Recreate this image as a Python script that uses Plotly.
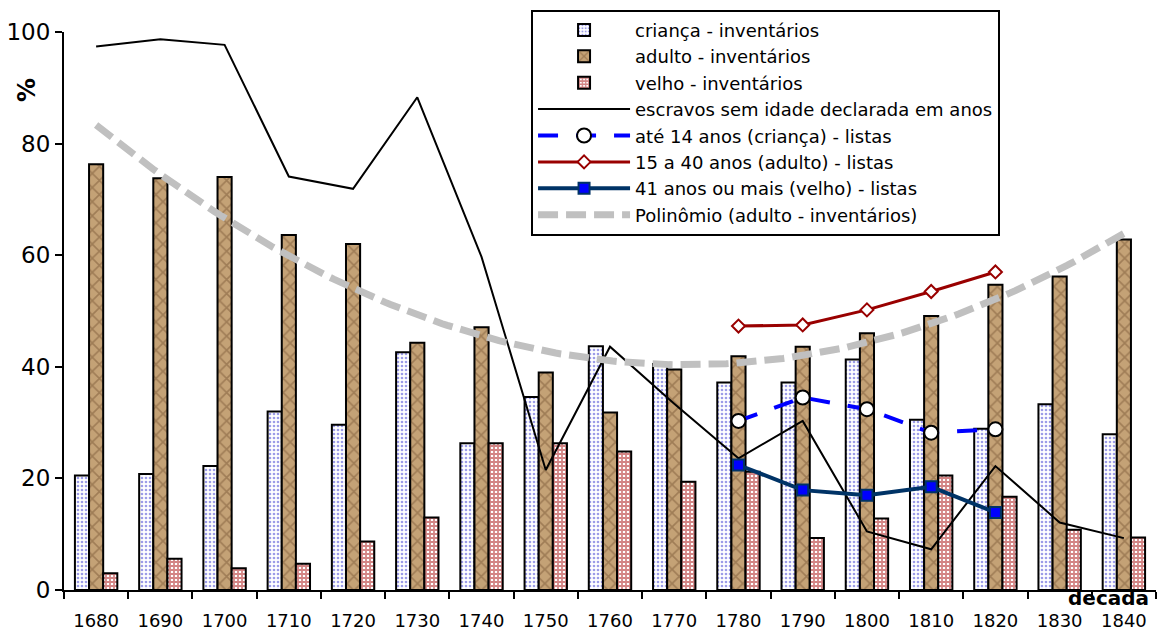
import numpy as np
import plotly.graph_objects as go

decades = [1680, 1690, 1700, 1710, 1720, 1730, 1740, 1750, 1760, 1770, 1780, 1790, 1800, 1810, 1820, 1830, 1840]
crianca_inv = [20.5, 20.8, 22.2, 32.0, 29.6, 42.6, 26.3, 34.6, 43.7, 40.5, 37.2, 37.2, 41.3, 30.5, 28.9, 33.3, 27.9]
adulto_inv = [76.3, 73.8, 74.0, 63.6, 62.0, 44.3, 47.1, 39.0, 31.8, 39.5, 41.9, 43.6, 46.0, 49.1, 54.7, 56.2, 62.8]
velho_inv = [3.0, 5.6, 3.9, 4.7, 8.7, 13.0, 26.3, 26.3, 24.8, 19.4, 21.2, 9.3, 12.8, 20.5, 16.7, 10.8, 9.4]
sem_idade = [97.4, 98.7, 97.7, 74.1, 71.9, 88.3, 59.7, 21.5, 43.6, 33.4, 23.6, 30.3, 10.5, 7.3, 22.2, 12.1, 9.3]

list_decades = [1780, 1790, 1800, 1810, 1820]
crianca_listas = [30.3, 34.5, 32.4, 28.2, 28.8]
adulto_listas = [47.3, 47.5, 50.2, 53.5, 57.0]
velho_listas = [22.4, 17.9, 17.0, 18.5, 13.9]

x_labels = [str(d) for d in decades]
y_ticks = [0, 20, 40, 60, 80, 100]

# polynomial (order 2) trendline of adult inventories, as Excel computes it on category index
idx = np.arange(1, len(decades) + 1)
coef = np.polyfit(idx, adulto_inv, 2)
fine_idx = np.linspace(1, len(decades), 200)
fine_years = decades[0] + (fine_idx - 1) * 10
poly_vals = np.polyval(coef, fine_idx)

FONT = "DejaVu Sans, Liberation Sans, Arial, sans-serif"

fig = go.Figure()
bar_line = dict(color="black", width=2)
fig.add_trace(go.Bar(
    x=decades, y=crianca_inv, name="criança - inventários",
    marker=dict(color="white", line=bar_line,
                pattern=dict(shape=".", fgcolor="#3a3ad0", bgcolor="white", size=4, solidity=0.35)),
))
fig.add_trace(go.Bar(
    x=decades, y=adulto_inv, name="adulto - inventários",
    marker=dict(color="#a8845a", line=bar_line,
                pattern=dict(shape="x", fgcolor="#7a5836", bgcolor="#c4a276", size=10, solidity=0.3)),
))
fig.add_trace(go.Bar(
    x=decades, y=velho_inv, name="velho - inventários",
    marker=dict(color="white", line=bar_line,
                pattern=dict(shape="+", fgcolor="#a80c0c", bgcolor="white", size=4, solidity=0.7)),
))
fig.add_trace(go.Scatter(
    x=decades, y=sem_idade, name="escravos sem idade declarada em anos",
    mode="lines", line=dict(color="black", width=2),
))
fig.add_trace(go.Scatter(
    x=list_decades, y=crianca_listas, name="até 14 anos (criança) - listas",
    mode="lines+markers", line=dict(color="#0000ff", width=4, dash="20px,18px"),
    marker=dict(symbol="circle", size=14, color="white", line=dict(color="black", width=2)),
))
fig.add_trace(go.Scatter(
    x=list_decades, y=adulto_listas, name="15 a 40 anos (adulto) - listas",
    mode="lines+markers", line=dict(color="#990000", width=3),
    marker=dict(symbol="diamond", size=10, color="white", line=dict(color="#990000", width=2)),
))
fig.add_trace(go.Scatter(
    x=list_decades, y=velho_listas, name="41 anos ou mais (velho) - listas",
    mode="lines+markers", line=dict(color="#003366", width=4),
    marker=dict(symbol="square", size=11, color="#0000ff", line=dict(color="#003366", width=2)),
))
fig.add_trace(go.Scatter(
    x=fine_years, y=poly_vals, name="Polinômio (adulto - inventários)",
    mode="lines", line=dict(color="#c0c0c0", width=7, dash="20px,8px"),
))

fig.update_layout(
    width=1158, height=633,
    margin=dict(l=64, r=2, t=32, b=43),
    paper_bgcolor="white", plot_bgcolor="white",
    barmode="group", bargap=0.34, bargroupgap=0,
    font=dict(family=FONT, color="black", size=17),
    showlegend=True,
    legend=dict(
        x=0.4277, y=1.040, xanchor="left", yanchor="top",
        bgcolor="white", bordercolor="black", borderwidth=2,
        font=dict(size=18, family=FONT), itemwidth=92,
        tracegroupgap=0,
    ),
    xaxis=dict(
        range=[1675, 1845], tickmode="array", tickvals=decades, ticktext=x_labels,
        ticks="", showline=True, linecolor="black", linewidth=2, showgrid=False,
        zeroline=False, tickfont=dict(size=18, family=FONT), ticklabelstandoff=13,
        minor=dict(ticks="outside", ticklen=7, tickwidth=2, tickcolor="black",
                   tick0=1675, dtick=10, showgrid=False),
    ),
    yaxis=dict(
        range=[0, 100], tickvals=y_ticks, ticks="outside", ticklen=7, tickwidth=2,
        tickcolor="black", showline=True, linecolor="black", linewidth=2,
        showgrid=False, zeroline=False, tickfont=dict(size=23, family=FONT),
    ),
    annotations=[
        dict(text="<b>%</b>", xref="paper", yref="paper", x=-0.034, y=0.896,
             xanchor="center", yanchor="middle",
             showarrow=False, textangle=-90, font=dict(size=24, family=FONT)),
        dict(text="<b>decada</b>", xref="paper", yref="paper", x=0.9955, y=0.0,
             xanchor="right", yanchor="top", showarrow=False, yshift=6,
             font=dict(size=20, family=FONT)),
    ],
)

fig.write_html("out.html")
